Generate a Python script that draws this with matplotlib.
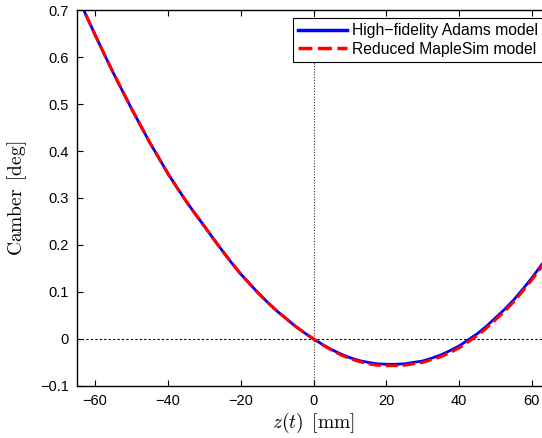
import matplotlib
matplotlib.use("Agg")
import matplotlib.pyplot as plt

# Verschiebung z(t) in mm
z_mm = [-65, -62.5, -60, -57.5, -55, -52.5, -50, -47.5, -45, -42.5, -40,
        -37.5, -35, -32.5, -30, -27.5, -25, -22.5, -20, -17.5, -15, -12.5,
        -10, -7.5, -5, -2.5, 0, 2.5, 5, 7.5, 10, 12.5, 15, 17.5, 20, 22.5,
        25, 27.5, 30, 32.5, 35, 37.5, 40, 42.5, 45, 47.5, 50, 52.5, 55,
        57.5, 60, 62.5, 65]

# Sturz in Grad, Adams-Modell
camber_adams = [0.732, 0.689, 0.647, 0.606, 0.566, 0.528, 0.490, 0.454,
                0.418, 0.385, 0.352, 0.322, 0.293, 0.266, 0.240, 0.213,
                0.187, 0.162, 0.138, 0.117, 0.096, 0.077, 0.059, 0.043,
                0.027, 0.013, 0.000, -0.012, -0.023, -0.032, -0.040, -0.046,
                -0.050, -0.053, -0.054, -0.054, -0.053, -0.050, -0.047,
                -0.041, -0.034, -0.025, -0.015, -0.002, 0.011, 0.027, 0.045,
                0.063, 0.083, 0.106, 0.130, 0.156, 0.183]

# Sturz in Grad, MapleSim-Modell
camber_maple = [0.732, 0.689, 0.647, 0.606, 0.566, 0.528, 0.490, 0.454,
                0.418, 0.385, 0.352, 0.322, 0.293, 0.266, 0.240, 0.213,
                0.187, 0.162, 0.138, 0.117, 0.096, 0.077, 0.059, 0.043,
                0.027, 0.013, 0.000, -0.013, -0.024, -0.034, -0.042, -0.048,
                -0.053, -0.056, -0.057, -0.057, -0.056, -0.053, -0.050,
                -0.044, -0.038, -0.029, -0.019, -0.006, 0.007, 0.023, 0.041,
                0.059, 0.079, 0.102, 0.126, 0.152, 0.179]

x_ticks = [-60, -40, -20, 0, 20, 40, 60]
y_ticks = [-0.1, 0, 0.1, 0.2, 0.3, 0.4, 0.5, 0.6, 0.7]
y_tick_labels = ["\u22120.1", "0", "0.1", "0.2", "0.3", "0.4", "0.5", "0.6", "0.7"]
x_tick_labels = ["\u221260", "\u221240", "\u221220", "0", "20", "40", "60"]

plt.rcParams["mathtext.fontset"] = "cm"
plt.rcParams["font.family"] = ["Liberation Sans", "DejaVu Sans"]

fig = plt.figure(figsize=(5.42, 4.38), dpi=100)
ax = fig.add_axes([0.142, 0.119, 0.873, 0.858])

ax.axhline(0, color="black", linestyle=(0, (2, 2)), linewidth=0.8)
ax.axvline(0, color="black", linestyle=(0, (1, 1.5)), linewidth=0.8, alpha=0.8)

ax.plot(z_mm, camber_adams, color="blue", linewidth=2.0,
        label="High\u2212fidelity Adams model")
ax.plot(z_mm, camber_maple, color="red", linewidth=2.2,
        linestyle=(0, (4, 1.6)), label="Reduced MapleSim model")

ax.set_xlim(-65, 65)
ax.set_ylim(-0.1, 0.7)
ax.set_xticks(x_ticks)
ax.set_xticklabels(x_tick_labels)
ax.set_yticks(y_ticks)
ax.set_yticklabels(y_tick_labels)
ax.tick_params(direction="in", top=True, right=True, labelsize=10.5,
               length=4, width=0.8, pad=6)
for s in ax.spines.values():
    s.set_linewidth(1.0)

ax.set_xlabel(r"$z(t)\ \,\mathrm{[mm]}$", fontsize=14, labelpad=2)
ax.set_ylabel(r"$\mathrm{Camber}\ \,\mathrm{[deg]}$", fontsize=14, labelpad=8)

leg = ax.legend(loc="upper right", bbox_to_anchor=(0.985, 0.979),
                fontsize=11.3, handlelength=3.1, borderpad=0.35,
                labelspacing=0.2, handletextpad=0.3, borderaxespad=0.0,
                fancybox=False, framealpha=1.0, edgecolor="black")
leg.get_frame().set_linewidth(0.8)
for line in leg.get_lines():
    line.set_linewidth(2.5)

fig.savefig("out.png", dpi=100)
